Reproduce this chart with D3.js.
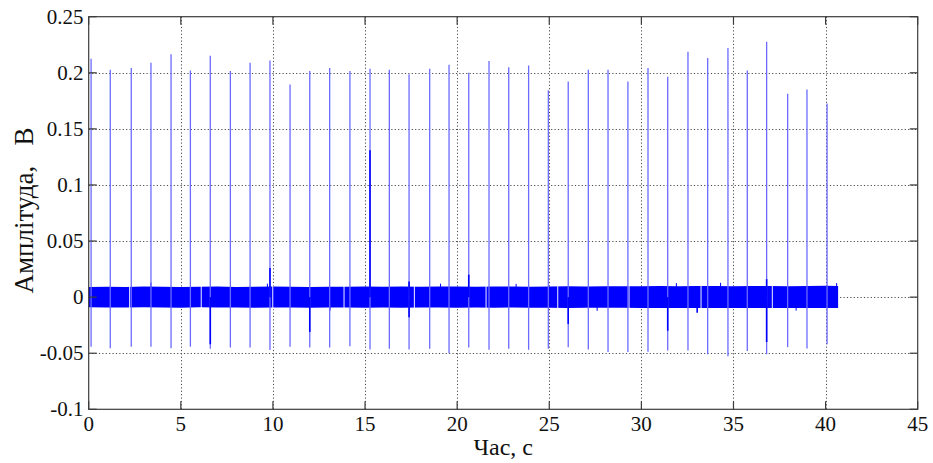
<!DOCTYPE html>
<html>
<head>
<meta charset="utf-8">
<script src="https://cdn.jsdelivr.net/npm/d3@7/dist/d3.min.js"></script>
<style>
  html, body { margin: 0; padding: 0; background: #ffffff; }
  svg { display: block; }
</style>
</head>
<body>
<svg id="chart" width="933" height="463"></svg>
<script>
// Pulse times (s), positive peak and negative trough of each pulse (V)
const pulseTimes = [0.13, 1.17, 2.31, 3.38, 4.47, 5.52, 6.60, 7.69, 8.76, 9.84,
  10.93, 12.00, 13.08, 14.18, 15.27, 16.32, 17.39, 18.51, 19.56, 20.63,
  21.73, 22.80, 23.88, 24.95, 26.03, 27.12, 28.19, 29.27, 30.36, 31.43,
  32.53, 33.60, 34.70, 35.75, 36.80, 37.94, 38.99, 40.08];
const pulsePeaks = [0.2125, 0.2027, 0.2042, 0.2090, 0.2166, 0.2021, 0.2152, 0.2015, 0.2090, 0.2110,
  0.1896, 0.2015, 0.2042, 0.2015, 0.2036, 0.2027, 0.1988, 0.2036, 0.2072, 0.2000,
  0.2104, 0.2050, 0.2066, 0.1845, 0.1923, 0.2027, 0.2027, 0.1923, 0.2042, 0.1965,
  0.2188, 0.2131, 0.2220, 0.2021, 0.2277, 0.1813, 0.1851, 0.1727];
const pulseTroughs = [-0.0442, -0.0455, -0.0442, -0.0442, -0.0455, -0.0442, -0.0460, -0.0448, -0.0448, -0.0472,
  -0.0442, -0.0448, -0.0450, -0.0437, -0.0466, -0.0460, -0.0466, -0.0460, -0.0500, -0.0450,
  -0.0470, -0.0460, -0.0470, -0.0460, -0.0446, -0.0466, -0.0490, -0.0490, -0.0487, -0.0475,
  -0.0475, -0.0510, -0.0526, -0.0480, -0.0510, -0.0446, -0.0457, -0.0420];

// Secondary (dense) excursions next to some pulses
const burstTimes  = [6.60, 9.84, 12.00, 15.27, 17.39, 17.39, 20.63, 26.03, 31.43, 33.03, 36.80, 36.80];
const burstValues = [-0.042, 0.026, -0.031, 0.131, -0.018, 0.014, 0.020, -0.024, -0.030, -0.014, -0.040, 0.016];

// Isolated noise hairs poking out of the band
const hairTimes  = [3.38, 9.70, 13.10, 19.10, 23.20, 27.60, 31.90, 34.30, 38.40, 40.60];
const hairValues = [0.0130, 0.0120, -0.0120, 0.0120, 0.0118, -0.0122, 0.0125, 0.0128, -0.0120, 0.0125];

// Background noise envelope (V), sampled once per second, ending with the record
const envTimes = [0, 1, 2, 3, 4, 5, 6, 7, 8, 9, 10, 11, 12, 13, 14, 15, 16, 17, 18, 19, 20,
  21, 22, 23, 24, 25, 26, 27, 28, 29, 30, 31, 32, 33, 34, 35, 36, 37, 38, 39, 40, 40.68];
const envUpper = [0.0090, 0.0092, 0.0090, 0.0094, 0.0093, 0.0090, 0.0092, 0.0094, 0.0090, 0.0093,
  0.0094, 0.0092, 0.0090, 0.0093, 0.0092, 0.0094, 0.0093, 0.0095, 0.0092, 0.0094, 0.0095,
  0.0093, 0.0094, 0.0095, 0.0092, 0.0095, 0.0097, 0.0095, 0.0097, 0.0098, 0.0097,
  0.0099, 0.0097, 0.0099, 0.0100, 0.0098, 0.0100, 0.0099, 0.0098, 0.0100, 0.0101, 0.0100];
const envLower = [-0.0090, -0.0092, -0.0093, -0.0091, -0.0093, -0.0094, -0.0091, -0.0093, -0.0092, -0.0094,
  -0.0093, -0.0092, -0.0094, -0.0093, -0.0092, -0.0094, -0.0093, -0.0095, -0.0093, -0.0092, -0.0094,
  -0.0093, -0.0094, -0.0093, -0.0094, -0.0095, -0.0096, -0.0094, -0.0095, -0.0095, -0.0096,
  -0.0097, -0.0097, -0.0098, -0.0097, -0.0098, -0.0097, -0.0098, -0.0096, -0.0097, -0.0098, -0.0097];

// Short quiet intervals between recording blocks
const blockGaps = [2.22, 6.11, 9.99, 13.86, 17.68, 21.57, 25.46, 29.33, 33.24, 37.11];

// Axis ticks
const xTicks = [0, 5, 10, 15, 20, 25, 30, 35, 40, 45];
const yTicks = [-0.1, -0.05, 0, 0.05, 0.1, 0.15, 0.2, 0.25];
const yTickLabels = ["-0.1", "-0.05", "0", "0.05", "0.1", "0.15", "0.2", "0.25"];

const xLabel = "Час, с";
const yLabel = "Амплітуда,   В";

const svg = d3.select("#chart")
  .attr("font-family", "'Liberation Serif', 'DejaVu Serif', 'Times New Roman', serif");
const pL = 88.7, pR = 917.7, pT = 16.7, pB = 409.3;

const x = d3.scaleLinear().domain([0, 45]).range([pL, pR]);
const y = d3.scaleLinear().domain([-0.1, 0.25]).range([pB, pT]);

// grid
const grid = svg.append("g").attr("stroke", "#4a4a4a").attr("stroke-width", 1)
  .attr("stroke-dasharray", "1.2,2.2");
grid.selectAll(".gx").data(xTicks.slice(1, -1)).join("line")
  .attr("x1", d => Math.round(x(d)) + 0.5).attr("x2", d => Math.round(x(d)) + 0.5)
  .attr("y1", pT).attr("y2", pB);
grid.selectAll(".gy").data(yTicks.slice(1, -1)).join("line")
  .attr("y1", d => Math.round(y(d)) + 0.5).attr("y2", d => Math.round(y(d)) + 0.5)
  .attr("x1", pL).attr("x2", pR);

// signal
const plot = svg.append("g");

const band = d3.area()
  .x((d, i) => x(envTimes[i]))
  .y0((d, i) => y(envLower[i]))
  .y1((d, i) => y(envUpper[i]));
plot.append("path").datum(envTimes).attr("d", band).attr("fill", "#0000ff");

plot.selectAll(".hair").data(hairTimes).join("line")
  .attr("x1", d => x(d)).attr("x2", d => x(d))
  .attr("y1", y(0)).attr("y2", (d, i) => y(hairValues[i]))
  .attr("stroke", "#0000ff").attr("stroke-width", 1);

plot.selectAll(".gap").data(blockGaps).join("line")
  .attr("x1", d => x(d)).attr("x2", d => x(d))
  .attr("y1", y(0.0125)).attr("y2", y(-0.0125))
  .attr("stroke", "#ffffff").attr("stroke-width", 1.1).attr("stroke-opacity", 0.85);

plot.selectAll(".pulse").data(pulseTimes).join("line")
  .attr("x1", d => x(d)).attr("x2", d => x(d))
  .attr("y1", (d, i) => y(pulsePeaks[i])).attr("y2", (d, i) => y(pulseTroughs[i]))
  .attr("stroke", "#6b6bff").attr("stroke-width", 1.3);

plot.selectAll(".burst").data(burstTimes).join("line")
  .attr("x1", d => x(d)).attr("x2", d => x(d))
  .attr("y1", y(0)).attr("y2", (d, i) => y(burstValues[i]))
  .attr("stroke", "#0000ff").attr("stroke-width", 1.6);

// box and inward ticks
const axisCol = "#3c3c3c";
const axes = svg.append("g").attr("stroke", axisCol).attr("stroke-width", 1.2);
axes.append("rect").attr("x", pL).attr("y", pT).attr("width", pR - pL).attr("height", pB - pT)
  .attr("fill", "none");
const tl = 8;
axes.selectAll(".tb").data(xTicks).join("line")
  .attr("x1", d => x(d)).attr("x2", d => x(d)).attr("y1", pB).attr("y2", pB - tl);
axes.selectAll(".tt").data(xTicks).join("line")
  .attr("x1", d => x(d)).attr("x2", d => x(d)).attr("y1", pT).attr("y2", pT + tl);
axes.selectAll(".tl").data(yTicks).join("line")
  .attr("y1", d => y(d)).attr("y2", d => y(d)).attr("x1", pL).attr("x2", pL + tl);
axes.selectAll(".tr").data(yTicks).join("line")
  .attr("y1", d => y(d)).attr("y2", d => y(d)).attr("x1", pR).attr("x2", pR - tl);

// tick labels
const labels = svg.append("g").attr("fill", "#111");
labels.selectAll(".xl").data(xTicks).join("text")
  .attr("x", d => x(d)).attr("y", 431).attr("text-anchor", "middle")
  .attr("font-size", 21).text(d => d);
labels.selectAll(".yl").data(yTicks).join("text")
  .attr("x", 83.5).attr("y", d => y(d)).attr("dy", "0.34em").attr("text-anchor", "end")
  .attr("font-size", 21).text((d, i) => yTickLabels[i]);

// axis titles
labels.append("text").attr("x", (pL + pR) / 2).attr("y", 455).attr("text-anchor", "middle")
  .attr("font-size", 24).text(xLabel);
labels.append("text").attr("transform", `translate(33,${(pT + pB) / 2 - 2.5}) rotate(-90)`)
  .attr("text-anchor", "middle").attr("font-size", 27).style("white-space", "pre").text(yLabel);
</script>
</body>
</html>
